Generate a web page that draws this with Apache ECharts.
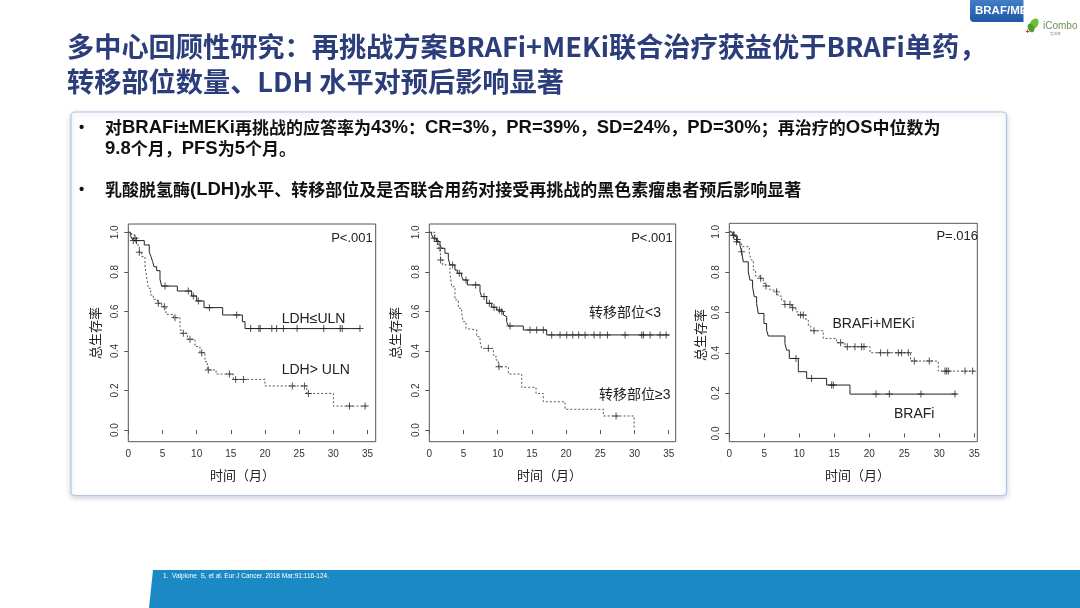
<!DOCTYPE html>
<html><head><meta charset="utf-8">
<script src="https://cdn.jsdelivr.net/npm/echarts@6/dist/echarts.min.js"></script>
<style>html,body{margin:0;padding:0;background:#fff}#c{width:1080px;height:608px}</style>
</head><body><div id="c"></div>
<script>
// ---------- data ----------
const xTicks = [0, 5, 10, 15, 20, 25, 30, 35];
const yTicks = [0, 0.2, 0.4, 0.6, 0.8, 1.0];

// Plot 1: LDH
const ldhLow = [[0,1],[0.3,0.983],[0.5,0.97],[0.73,0.958],[2.34,0.936],[3.07,0.899],[3.32,0.877],[3.56,0.852],[3.76,0.826],[4.15,0.806],[4.64,0.762],[4.88,0.728],[7.17,0.703],[9.27,0.678],[10.0,0.653],[11.08,0.619],[13.81,0.582],[16.69,0.548],[17.08,0.513],[33.9,0.513]];
const ldhLowCensor = [0.73,1.2,5.37,8.78,9.52,10.25,11.86,15.86,17.9,19.1,19.3,21.0,21.7,22.7,24.7,28.6,31.0,31.3,33.9];
const ldhHigh = [[0,1],[0.49,0.986],[0.98,0.97],[1.22,0.936],[1.61,0.899],[1.95,0.877],[2.44,0.826],[2.68,0.776],[2.93,0.717],[3.27,0.683],[3.66,0.661],[4.25,0.641],[4.88,0.624],[5.51,0.585],[6.6,0.568],[7.56,0.523],[7.81,0.489],[8.64,0.459],[9.76,0.422],[10.49,0.391],[11.22,0.346],[11.57,0.304],[12.84,0.283],[15.37,0.256],[20.01,0.223],[26.11,0.185],[30.01,0.121],[35.14,0.121]];
const ldhHighCensor = [0.98,1.61,4.39,5.27,6.83,8.05,9.03,10.74,11.71,14.79,15.71,16.84,24.0,25.77,26.35,32.36,34.65];

// Plot 2: number of metastatic sites
const metLow = [[0,1],[0.34,0.987],[0.59,0.970],[1.07,0.953],[1.56,0.936],[1.80,0.919],[2.29,0.894],[2.78,0.868],[3.02,0.835],[3.75,0.809],[4.10,0.793],[4.73,0.776],[4.97,0.759],[5.56,0.734],[7.41,0.700],[7.65,0.675],[8.39,0.641],[9.12,0.621],[9.85,0.607],[10.4,0.599],[10.83,0.582],[11.07,0.573],[11.31,0.548],[11.56,0.526],[13.75,0.506],[17.16,0.481],[35.1,0.481]];
const metLowCensor = [0.73,1.17,3.41,4.39,5.36,6.78,8.0,8.78,9.46,10.24,10.6,11.8,14.72,15.70,16.67,17.89,19.11,20.09,20.97,21.84,22.77,24.09,24.96,26.04,28.62,31.06,31.30,32.28,33.74,34.62];
const metHigh = [[0,1],[0.83,0.961],[1.32,0.919],[1.62,0.860],[1.95,0.835],[3.02,0.793],[3.27,0.725],[3.75,0.658],[4.24,0.616],[4.73,0.590],[4.97,0.548],[5.36,0.514],[5.56,0.506],[6.92,0.472],[7.41,0.447],[7.65,0.413],[9.36,0.379],[9.75,0.354],[10.09,0.320],[11.56,0.283],[13.51,0.216],[15.60,0.185],[16.67,0.143],[19.84,0.105],[25.45,0.071],[29.94,0.008]];
const metHighCensor = [1.56,1.66,8.63,10.19,27.30];

// Plot 3: treatment
const brafi = [[0,1],[0.33,0.992],[0.57,0.983],[0.81,0.975],[1.05,0.950],[1.52,0.934],[1.76,0.901],[2.0,0.851],[2.71,0.802],[2.95,0.760],[3.33,0.727],[3.57,0.678],[3.90,0.645],[4.14,0.595],[4.95,0.545],[5.33,0.512],[5.57,0.483],[7.95,0.446],[8.19,0.413],[8.57,0.372],[9.86,0.306],[11.05,0.273],[13.90,0.240],[17.24,0.195],[32.48,0.195]];
const brafiCensor = [0.57,1.05,1.76,9.52,11.76,14.62,14.86,20.95,22.86,27.38,32.24];
const combo = [[0,1],[0.67,0.983],[1.14,0.962],[1.43,0.945],[1.76,0.926],[2.86,0.893],[3.10,0.860],[3.43,0.810],[3.76,0.780],[4.38,0.769],[4.86,0.744],[5.24,0.731],[5.81,0.711],[6.76,0.702],[7.0,0.681],[7.48,0.661],[7.81,0.640],[8.90,0.623],[9.52,0.603],[9.86,0.587],[10.95,0.562],[11.29,0.532],[11.62,0.509],[13.43,0.471],[15.33,0.450],[16.52,0.430],[20.10,0.400],[25.90,0.359],[29.86,0.309],[35.10,0.309]];
const comboCensor = [0.67,1.14,4.48,5.24,6.76,7.95,8.67,9.05,10.19,10.57,12.10,15.90,16.86,17.95,18.90,19.24,21.62,22.62,24.14,24.62,25.57,26.43,28.57,30.81,31.05,31.29,33.67,34.76];

const pValues = ['P<.001', 'P<.001', 'P=.016'];
const groupLabels = [['LDH≤ULN', 'LDH> ULN'], ['转移部位<3', '转移部位≥3'], ['BRAFi+MEKi', 'BRAFi']];
const yTitle = '总生存率';
const xTitle = '时间（月）';

// ---------- layout ----------
const grids = [
  {left: 128.3, top: 224, width: 247.4, height: 217.7, xMax: 36.2, yMin: -0.059, yMax: 1.042},
  {left: 429.3, top: 224, width: 246.4, height: 217.7, xMax: 36.02, yMin: -0.059, yMax: 1.042},
  {left: 729.3, top: 223.3, width: 248, height: 218.4, xMax: 35.43, yMin: -0.041, yMax: 1.042}
];
const PLUS = 'path://M0,4.3H10V5.7H0Z M4.3,0H5.7V10H4.3Z';
const LAT = "'Liberation Sans','Noto Sans CJK SC',sans-serif";
const CJK = "'Noto Sans CJK SC','Liberation Sans',sans-serif";

function stepAt(curve, t) {
  let v = curve[0][1];
  for (const p of curve) { if (p[0] <= t + 1e-9) v = p[1]; }
  return v;
}

const curves = [
  {g: 0, data: ldhLow, censor: ldhLowCensor, dotted: false},
  {g: 0, data: ldhHigh, censor: ldhHighCensor, dotted: true},
  {g: 1, data: metLow, censor: metLowCensor, dotted: false},
  {g: 1, data: metHigh, censor: metHighCensor, dotted: true},
  {g: 2, data: brafi, censor: brafiCensor, dotted: false},
  {g: 2, data: combo, censor: comboCensor, dotted: true}
];

const series = [];
curves.forEach(c => {
  series.push({
    type: 'line', xAxisIndex: c.g, yAxisIndex: c.g, data: c.data, step: 'end',
    symbol: 'none', silent: true, animation: false, z: 3,
    lineStyle: {color: c.dotted ? '#555' : '#222', width: 1, type: c.dotted ? [2, 2] : 'solid'}
  });
  series.push({
    type: 'scatter', xAxisIndex: c.g, yAxisIndex: c.g, silent: true, animation: false, z: 4,
    data: c.censor.map(t => [t, stepAt(c.data, t)]),
    symbol: PLUS, symbolSize: 7, itemStyle: {color: '#222'}
  });
});

const gridOpt = grids.map(g => ({
  left: g.left, top: g.top, width: g.width, height: g.height,
  show: true, borderColor: '#555', borderWidth: 1, backgroundColor: 'transparent',
  containLabel: false, outerBoundsMode: 'none'
}));
const xAxes = grids.map((g, i) => ({
  type: 'value', gridIndex: i, min: 0, max: g.xMax,
  axisLine: {show: false}, splitLine: {show: false},
  axisTick: {show: true, length: 4, lineStyle: {color: '#555'}, customValues: xTicks},
  axisLabel: {customValues: xTicks, color: '#333', fontSize: 10, margin: 8, fontFamily: LAT}
}));
const yAxes = grids.map((g, i) => ({
  type: 'value', gridIndex: i, min: g.yMin, max: g.yMax,
  axisLine: {show: false}, splitLine: {show: false},
  axisTick: {show: true, length: 4, lineStyle: {color: '#555'}, customValues: yTicks},
  axisLabel: {customValues: yTicks, color: '#333', fontSize: 10, margin: 8, rotate: 90,
    fontFamily: LAT, formatter: v => v.toFixed(1)}
}));

// ---------- slide graphics ----------
const gfx = [];
function txt(text, x, y, size, opts) {
  opts = opts || {};
  const el = {
    type: 'text', x: x, y: y, z: opts.z || 10, rotation: opts.rot || 0, silent: true,
    style: {text: text, x: 0, y: 0, fill: opts.color || '#222', fontSize: size,
      fontWeight: opts.bold ? 'bold' : 'normal', fontFamily: opts.font || LAT,
      textAlign: opts.align || 'left', textVerticalAlign: 'middle'}
  };
  gfx.push(el);
}
// mixed-script bullet text: CJK glyphs and Latin glyphs in separate runs
function isCJK(ch) { return ch.charCodeAt(0) >= 0x2E80; }
function richify(s) {
  let out = '', cur = null, buf = '';
  for (const ch of s) {
    const t = isCJK(ch) ? 'c' : 'l';
    if (t !== cur) { if (buf) out += '{' + cur + '|' + buf + '}'; buf = ''; cur = t; }
    buf += ch;
  }
  if (buf) out += '{' + cur + '|' + buf + '}';
  return out;
}
function bullet(text, x, y) {
  gfx.push({
    type: 'text', x: x, y: y, z: 10, silent: true,
    style: {text: richify(text), x: 0, y: 0, textAlign: 'left', textVerticalAlign: 'middle',
      rich: {
        c: {fontSize: 17, fontWeight: 'bold', fontFamily: CJK, fill: '#111', lineHeight: 22, verticalAlign: 'middle'},
        l: {fontSize: 18.5, fontWeight: 'bold', fontFamily: "'Liberation Sans',sans-serif", fill: '#111', lineHeight: 22, verticalAlign: 'middle'}
      }}
  });
}
// content box
gfx.push({type: 'rect', z: -5, silent: true, shape: {x: 71, y: 112, width: 935.5, height: 383.5, r: 4},
  style: {fill: '#fff', stroke: '#B3C5E6', lineWidth: 1.2, shadowBlur: 5, shadowOffsetY: 2, shadowColor: 'rgba(60,80,140,0.25)'}});
// footer
gfx.push({type: 'polygon', z: 1, silent: true, shape: {points: [[153, 570], [1080, 570], [1080, 608], [149, 608]]}, style: {fill: '#1B8AC4'}});
txt('1.  Valpione  S, et al. Eur J Cancer. 2018 Mar;91:116-124.', 163, 576, 6.5, {color: '#fff'});
// top-right tab + logo
gfx.push({type: 'rect', z: 1, silent: true, shape: {x: 970, y: -5, width: 60, height: 27, r: 4},
  style: {fill: {type: 'linear', x: 0, y: 0, x2: 0, y2: 1, colorStops: [{offset: 0, color: '#4A86CF'}, {offset: 1, color: '#1F58A6'}]}}});
txt('BRAF/MEKi', 975, 11, 11.5, {bold: true, color: '#fff', z: 2});
gfx.push({type: 'rect', z: 3, silent: true, shape: {x: 1023.5, y: 0, width: 57, height: 40}, style: {fill: '#fff'}});
gfx.push({type: 'ellipse', z: 4, silent: true, shape: {cx: 1034, cy: 24, rx: 4, ry: 6}, rotation: -0.6, originX: 1034, originY: 24, style: {fill: '#6DBE3A'}});
gfx.push({type: 'ellipse', z: 4, silent: true, shape: {cx: 1031, cy: 28, rx: 3, ry: 4.5}, rotation: 0.5, originX: 1031, originY: 28, style: {fill: '#4E9E2B'}});
txt('+', 1025.5, 32, 7, {bold: true, color: '#D33', z: 5});
txt('iCombo', 1043, 26.5, 10, {color: '#6E8F5A', z: 5});
txt('爱康博', 1050, 33.5, 3.5, {color: '#8A9A80', z: 5, font: CJK});
// title
txt('多中心回顾性研究：再挑战方案BRAFi+MEKi联合治疗获益优于BRAFi单药，', 67, 47, 27.2, {bold: true, color: '#2B3D7A', font: CJK});
txt('转移部位数量、LDH 水平对预后影响显著', 67, 82, 27.2, {bold: true, color: '#2B3D7A', font: CJK});
// bullets
txt('•', 79, 128, 15, {bold: true, color: '#111'});
bullet('对BRAFi±MEKi再挑战的应答率为43%：CR=3%，PR=39%，SD=24%，PD=30%；再治疗的OS中位数为', 105, 128);
bullet('9.8个月，PFS为5个月。', 105, 149);
txt('•', 79, 190, 15, {bold: true, color: '#111'});
bullet('乳酸脱氢酶(LDH)水平、转移部位及是否联合用药对接受再挑战的黑色素瘤患者预后影响显著', 105, 190);

// plot annotations
const pPos = [[372.7, 238], [672.7, 238], [978, 236]];
pPos.forEach((p, i) => txt(pValues[i], p[0], p[1], 13, {align: 'right', color: '#222', z: 6}));
const labPos = [[[281.7, 319], [281.7, 370.5]], [[589, 313], [599, 395]], [[832.5, 324], [894, 414]]];
labPos.forEach((pair, i) => pair.forEach((p, j) => txt(groupLabels[i][j], p[0], p[1], 14, {color: '#222', z: 6})));
const yTitlePos = [[95, 333], [395, 333], [700, 335]];
yTitlePos.forEach(p => txt(yTitle, p[0], p[1], 13, {align: 'center', rot: Math.PI / 2, color: '#222', font: CJK}));
const xTitleLeft = [[210, 475], [517, 475], [825, 475]];
xTitleLeft.forEach(p => txt(xTitle, p[0], p[1], 13, {color: '#222', font: CJK}));

const chart = echarts.init(document.getElementById('c'), null, {renderer: 'canvas'});
chart.setOption({
  animation: false,
  backgroundColor: '#fff',
  grid: gridOpt, xAxis: xAxes, yAxis: yAxes, series: series,
  graphic: {elements: gfx}
});
</script></body></html>
